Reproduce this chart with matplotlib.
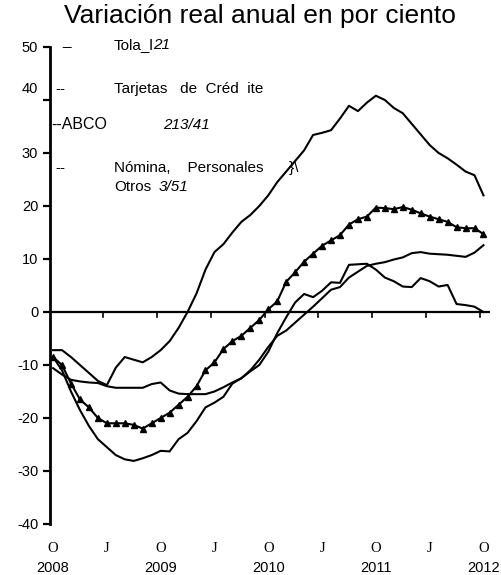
import numpy as np
import matplotlib.pyplot as plt
import matplotlib.transforms as mtransforms

plt.rcParams['font.family'] = ['Liberation Sans', 'DejaVu Sans']

# months since Jan 2008 (monthly data, Jan 2008 .. Jan 2012)
months = np.arange(49)

tarjetas = [-7.2, -7.2, -8.5, -10, -11.5, -13, -13.8, -10.5, -8.5, -9, -9.5, -8.5,
            -7.2, -5.5, -3, 0, 3.5, 8, 11.3, 12.8, 15, 17, 18.3, 20,
            22, 24.5, 26.5, 28.5, 30.5, 33.4, 33.8, 34.3, 36.5, 38.9, 37.9, 39.5,
            40.8, 40, 38.5, 37.5, 35.5, 33.5, 31.5, 30, 29, 27.8, 26.5, 25.8, 22]

total = [-8.5, -10, -13.5, -16.5, -18, -20, -21, -21, -21, -21.3, -22, -21,
         -20, -19, -17.5, -16, -14, -11, -9.5, -7, -5.5, -4.5, -3, -1.5,
         0.5, 2, 5.7, 7.5, 9.5, 11, 12.5, 13.5, 14.5, 16.5, 17.5, 18,
         19.7, 19.6, 19.4, 19.8, 19.3, 18.6, 18, 17.5, 17, 16, 15.8, 15.8, 14.7]

nomina = [-8.5, -11, -15, -18.5, -21.5, -24, -25.5, -27, -27.8, -28.1, -27.6, -27,
          -26.2, -26.3, -24, -22.8, -20.6, -18, -17.1, -16, -13.5, -12.5, -11, -9,
          -6.6, -4.5, -3.5, -2, -0.5, 1, 2.6, 4.2, 4.7, 6.5, 7.6, 8.7,
          9.1, 9.4, 9.9, 10.3, 11.1, 11.3, 11, 10.9, 10.8, 10.6, 10.4, 11.2, 12.6]

abcd = [-10.6, -11.8, -12.8, -13.1, -13.3, -13.4, -14, -14.3, -14.3, -14.3, -14.3, -13.6,
        -13.3, -14.8, -15.4, -15.5, -15.5, -15.5, -15, -14.2, -13.3, -12.5, -11.2, -10,
        -7.5, -4, -1, 1.8, 3.4, 2.8, 4, 5.6, 5.5, 8.9, 9, 9.1,
        8, 6.5, 5.8, 4.8, 4.7, 6.4, 5.8, 4.8, 5.1, 1.5, 1.3, 1.0, 0]

yticks = [50, 40, 30, 20, 10, 0, -10, -20, -30, -40]
xlabels = ['O', 'J', 'O', 'J', 'O', 'J', 'O', 'J', 'O']
years = ['2008', '2009', '2010', '2011', '2012']

fig = plt.figure(figsize=(5.02, 5.75), dpi=100)
ax = fig.add_axes([0.0996, 0.0887, 0.876, 0.8296])

ax.plot(months, tarjetas, color='black', lw=1.5)
ax.plot(months, nomina, color='black', lw=1.5)
ax.plot(months, abcd, color='black', lw=1.5)
ax.plot(months, total, color='black', lw=1.5, marker='^', markersize=4)

ax.axhline(0, color='black', lw=1.6)
for k in range(1, 9):
    ax.plot([6 * k - 0.4, 6 * k - 0.4], [0, -0.9], color='black', lw=1.2)

ax.set_xlim(-0.34, 48.7)
ax.set_ylim(-40, 50)

ax.spines['right'].set_visible(False)
ax.spines['top'].set_visible(False)
ax.spines['bottom'].set_visible(False)
ax.spines['left'].set_linewidth(2)

ax.set_yticks(yticks)
# the "40" label sits above its tick in the original, drawn separately below
ax.set_yticklabels(['' if v == 40 else str(v) for v in yticks], fontsize=10.5)
ax.tick_params(axis='y', direction='out', length=5, width=1.6)
ax.set_xticks([])
trans = mtransforms.blended_transform_factory(ax.transAxes, ax.transData)
ax.text(-0.028, 42, '40', transform=trans, fontsize=10.5, ha='right', va='center')

# bottom labels: half-year letters and years
for i, lab in enumerate(xlabels):
    ax.text(i * 6, -44.6, lab, fontsize=10.5, ha='center', va='center',
            family=['Liberation Serif'])
for i, yr in enumerate(years):
    ax.text(i * 12, -48.3, yr, fontsize=10.5, ha='center', va='center')

# legend-like text block
ax.text(1.0, 51.2, '_', fontsize=11, va='center')
ax.text(6.8, 50.3, 'Tola_l', fontsize=11, va='center')
ax.text(11.2, 50.3, '21', fontsize=11, va='center', style='italic')
ax.text(0.3, 42.0, '--', fontsize=11, va='center')
ax.text(6.8, 42.0, 'Tarjetas   de  Créd  ite', fontsize=11, va='center')
ax.text(-0.2, 35.3, '--ABCO', fontsize=11.5, va='center')
ax.text(12.3, 35.3, '213/41', fontsize=11, va='center', style='italic')
ax.text(0.3, 27.2, '--', fontsize=11, va='center')
ax.text(6.8, 27.2, 'Nómina,    Personales      }\\', fontsize=11, va='center')
ax.text(6.8, 23.5, 'Otros', fontsize=11, va='center')
ax.text(11.8, 23.5, '3/51', fontsize=11, va='center', style='italic')

fig.text(0.518, 0.972, 'Variación real anual en por ciento', fontsize=19,
         ha='center', va='center')

fig.savefig('out.png', dpi=100)
